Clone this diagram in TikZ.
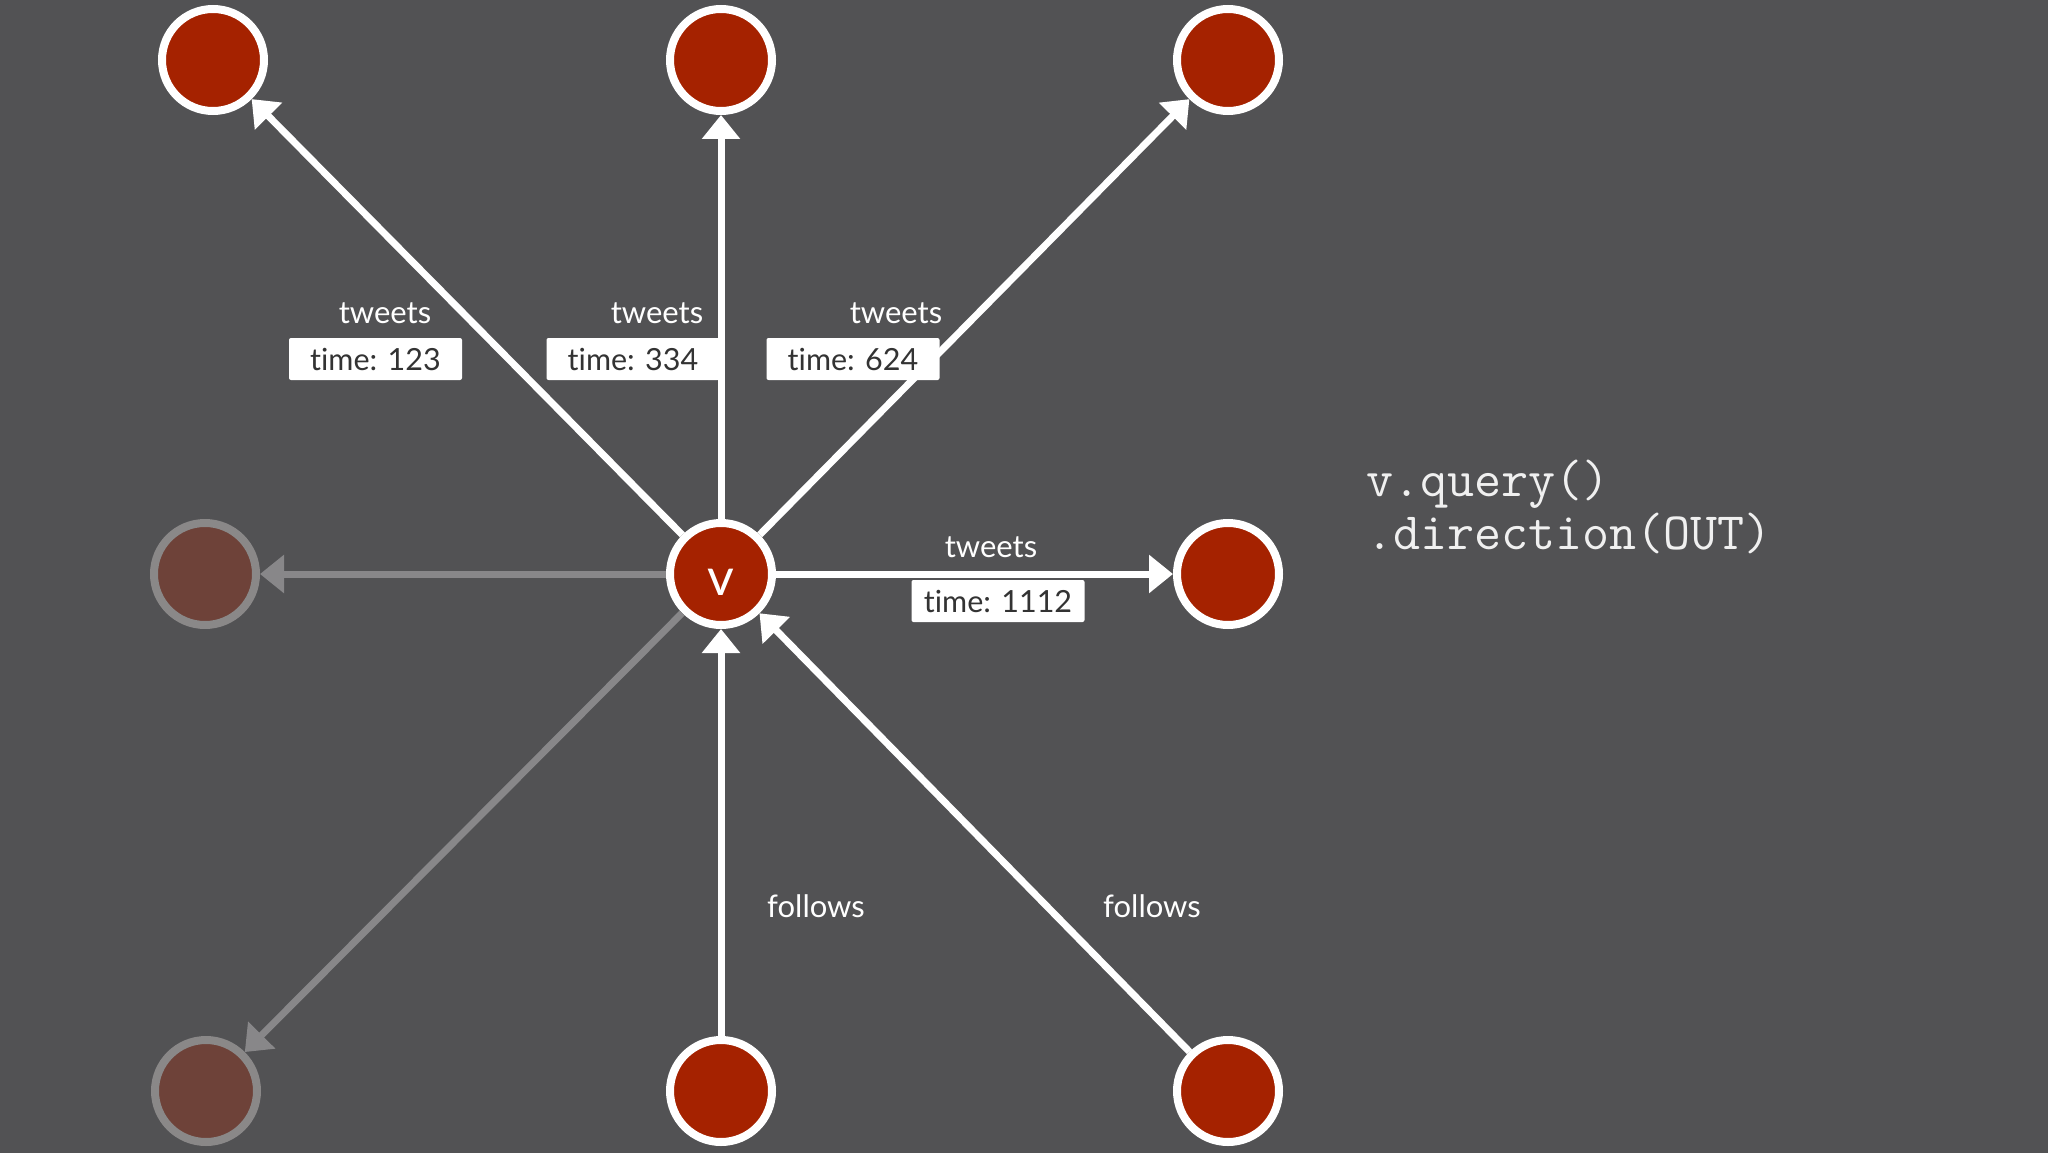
\documentclass[tikz,border=0pt]{standalone}
\usepackage{fontspec}
\setmainfont{Lato}[Ligatures=NoCommon]
\setmonofont{Latin Modern Mono}
\usetikzlibrary{arrows.meta}
\definecolor{bg}{HTML}{525254}
\definecolor{nodered}{HTML}{A52200}
\definecolor{fadefill}{HTML}{6E4239}
\definecolor{fadeborder}{HTML}{8A8888}
\definecolor{fadeedge}{HTML}{888789}
\definecolor{boxtext}{HTML}{333333}
\begin{document}
\begin{tikzpicture}[x=1pt,y=-1pt,
  vtx/.style={circle, draw=white, line width=8pt, fill=nodered, minimum size=102pt, inner sep=0pt},
  fadedvtx/.style={vtx, draw=fadeborder, fill=fadefill},
  outedge/.style={draw=white, line width=7pt, -{Triangle[length=24pt,width=37pt]}},
  fadededge/.style={outedge, draw=fadeedge},
  elabel/.style={text=white, font=\fontsize{31}{36}\selectfont, anchor=base, inner sep=0pt},
  tbox/.style={fill=white, rounded corners=2pt, text=boxtext, font=\fontsize{30.5}{36}\selectfont, minimum width=173pt, minimum height=42pt, inner sep=0pt},
  codetext/.style={text=white!94!black, font=\ttfamily\fontsize{52.5}{60}\selectfont, anchor=base west, inner sep=0pt}
]
\fill[bg] (0,0) rectangle (2048,1153);
\useasboundingbox (0,0) rectangle (2048,1153);

% vertices
\node[vtx] (v) at (721,574) {};
\node[vtx] (t1) at (213,60) {};
\node[vtx] (t2) at (721,60) {};
\node[vtx] (t3) at (1228,60) {};
\node[fadedvtx] (l) at (205,574) {};
\node[vtx] (r) at (1228,574) {};
\node[fadedvtx] (bl) at (206,1091) {};
\node[vtx] (bm) at (721,1091) {};
\node[vtx] (br) at (1228,1091) {};

\node[text=white, font=\fontsize{52}{60}\selectfont, anchor=base, inner sep=0pt] (vlab) at (721,595) {v};

% edges
\draw[fadededge] (v) -- (l);
\draw[fadededge] (v) -- (bl);
\draw[outedge] (v) -- (t1);
\draw[outedge] (v) -- (t2);
\draw[outedge] (v) -- (t3);
\draw[outedge] (v) -- (r);
\draw[outedge] (bm) -- (v);
\draw[outedge] (br) -- (v);

% labels
\node[elabel] (lt1) at (385,323) {tweets};
\node[elabel] (lt2) at (657,323) {tweets};
\node[elabel] (lt3) at (896,323) {tweets};
\node[elabel] (lt4) at (991,557) {tweets};
\node[tbox] (b1) at (375.5,359) {time: 123};
\node[tbox] (b2) at (633,359) {time: 334};
\node[tbox] (b3) at (853,359) {time: 624};
\node[tbox] (b4) at (998,601) {time: 1112};
\node[elabel] (lf1) at (816,917) {follows};
\node[elabel] (lf2) at (1152,917) {follows};

% code
\node[codetext] (c1) at (1366,496) {v.query()};
\node[codetext] (c2) at (1366,549) {.direction(OUT)};
\end{tikzpicture}
\end{document}
